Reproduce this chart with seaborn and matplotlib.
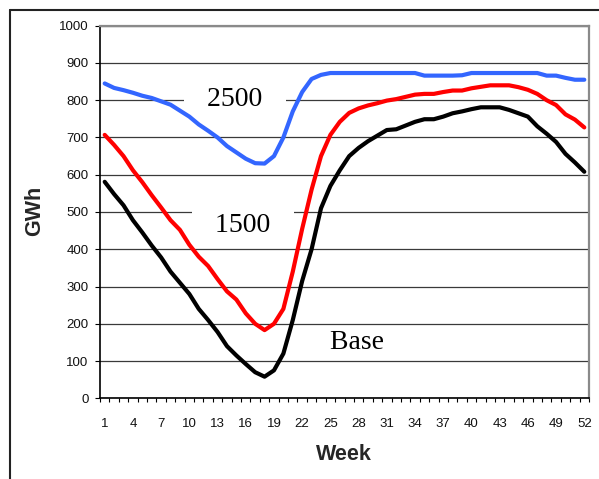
import numpy as np
import pandas as pd
import matplotlib
matplotlib.use("Agg")
import matplotlib.pyplot as plt
from matplotlib.lines import Line2D
import seaborn as sns

weeks = list(range(1, 53))

gwh_2500 = [845, 833, 827, 820, 812, 806, 797, 788, 772, 756,
            735, 718, 700, 677, 660, 643, 631, 630, 650, 700,
            770, 822, 857, 868, 873, 873, 873, 873, 873, 873,
            873, 873, 873, 873, 866, 866, 866, 866, 867, 873,
            873, 873, 873, 873, 873, 873, 873, 866, 866, 860,
            855, 855]

gwh_1500 = [707, 680, 650, 612, 580, 545, 512, 478, 452, 412,
            380, 355, 320, 287, 265, 228, 200, 183, 200, 240,
            340, 455, 560, 650, 707, 742, 766, 778, 786, 792,
            799, 803, 809, 815, 817, 817, 822, 826, 826, 832,
            836, 840, 840, 840, 835, 828, 817, 800, 787, 762,
            748, 727]

gwh_base = [581, 548, 518, 478, 445, 410, 378, 340, 310, 280,
            240, 210, 178, 140, 115, 92, 70, 58, 75, 120,
            210, 315, 400, 510, 570, 612, 650, 672, 690, 705,
            720, 722, 732, 742, 749, 749, 756, 765, 770, 776,
            781, 781, 781, 774, 765, 756, 730, 710, 688, 656,
            633, 608]

series_names = ["2500", "1500", "Base"]
series_colors = ["#3366FF", "#FF0000", "#000000"]
y_ticks = list(range(0, 1001, 100))
x_tick_labels = list(range(1, 53, 3))

df = pd.DataFrame({
    "Week": weeks * 3,
    "GWh": gwh_2500 + gwh_1500 + gwh_base,
    "Series": ["2500"] * 52 + ["1500"] * 52 + ["Base"] * 52,
})

sns.set_style("white")
plt.rcParams["font.family"] = ["Liberation Sans", "DejaVu Sans"]

fig = plt.figure(figsize=(5.99, 4.79), dpi=100)
ax = fig.add_axes([100 / 599, 1 - 398.3 / 479, 489 / 599, (398.3 - 25.7) / 479])

sns.lineplot(data=df, x="Week", y="GWh", hue="Series", hue_order=series_names,
             palette=dict(zip(series_names, series_colors)), linewidth=3.0,
             legend=False, ax=ax, zorder=3)

ax.set_xlim(0.5, 52.5)
ax.set_ylim(0, 1000)

# grid
ax.set_yticks(y_ticks)
ax.yaxis.grid(True, color="#3a3a3a", linewidth=0.9)
ax.xaxis.grid(False)
ax.set_axisbelow(True)

# x ticks: boundaries (major, unlabeled) and labels at centres (minor)
ax.set_xticks(np.arange(0.5, 53, 1.0))
ax.set_xticklabels([])
ax.set_xticks(x_tick_labels, minor=True)
ax.set_xticklabels([str(v) for v in x_tick_labels], minor=True)
ax.tick_params(axis="x", which="major", direction="out", length=3, width=0.8,
               color="black", bottom=True)
ax.tick_params(axis="x", which="minor", length=0, pad=14, labelsize=9.5,
               labelcolor="#111111")
ax.tick_params(axis="y", which="major", direction="out", length=3.8, width=0.8,
               color="black", left=True, pad=4.5, labelsize=9.5, labelcolor="#111111")

for side in ["left", "bottom"]:
    ax.spines[side].set_color("black")
    ax.spines[side].set_linewidth(1.2)
for side in ["top", "right"]:
    ax.spines[side].set_visible(True)
    ax.spines[side].set_color("#8a8a8a")
    ax.spines[side].set_linewidth(1.6)

ax.set_xlabel("Week", fontsize=15.5, fontweight="bold", va="center")
ax.set_ylabel("GWh", fontsize=15.5, fontweight="bold", va="center", ha="center")
ax.xaxis.set_label_coords((344 - 100) / 489, (398.3 - 455) / 372.6)
ax.yaxis.set_label_coords((34.5 - 100) / 489, (398.3 - 211) / 372.6)

# series labels with white boxes covering gridlines
label_pos = {"2500": (14.86, 801), "1500": (15.7, 465), "Base": (27.8, 151)}
for name in series_names:
    x, y = label_pos[name]
    ax.text(x, y, "   " + name + "   ", fontsize=20, family="Liberation Serif",
            ha="center", va="center", color="black", zorder=2.5,
            bbox=dict(boxstyle="square,pad=0.08", facecolor="white", edgecolor="none"))

# outer chart frame (top and left edges visible)
fig.add_artist(Line2D([10 / 599, 10 / 599], [0, 1 - 10 / 479],
                      transform=fig.transFigure, color="#222222", linewidth=1.5))
fig.add_artist(Line2D([10 / 599, 1], [1 - 10 / 479, 1 - 10 / 479],
                      transform=fig.transFigure, color="#222222", linewidth=1.5))

fig.savefig("out.png", dpi=100)
